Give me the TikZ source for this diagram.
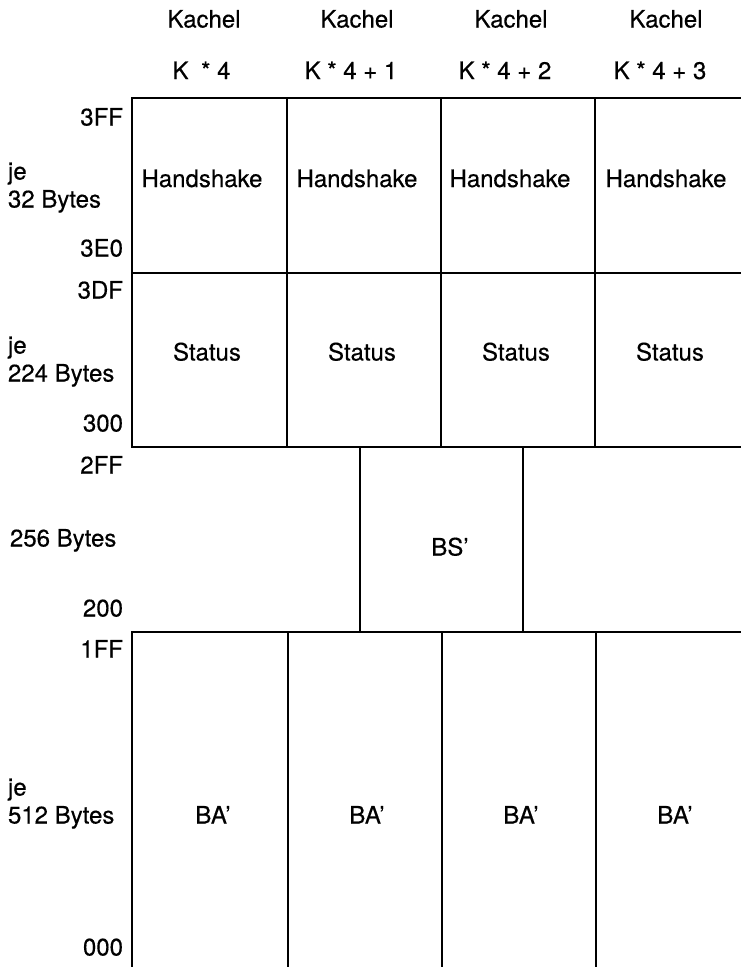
\documentclass[tikz,border=0pt]{standalone}
\usepackage{fontspec}
\setmainfont{TeX Gyre Heros}
\newfontfamily\lblfont{TeX Gyre Heros}[UprightFeatures={FakeBold=0.4}]
\begin{document}
\begin{tikzpicture}[x=1pt,y=-1pt,
  every node/.style={inner sep=0pt,outer sep=0pt,font=\lblfont\fontsize{24}{28}\selectfont},
  rule/.style={line width=1.8pt,line cap=rect},
  hexlbl/.style={anchor=base east},
  sizelbl/.style={anchor=base west},
  cell/.style={anchor=base}]
\useasboundingbox (0,0) rectangle (740,967);
% horizontal rules
\draw[rule] (132,98) -- (740,98);
\draw[rule] (132,273) -- (740,273);
\draw[rule] (132,447) -- (740,447);
\draw[rule] (132,632) -- (740,632);
% vertical rules, top sections
\foreach \xx in {132,287,441,595} \draw[rule] (\xx,98) -- (\xx,447);
% BS' box
\draw[rule] (360,447) -- (360,632);
\draw[rule] (523,447) -- (523,632);
% BA' columns
\foreach \xx in {132,288,442,596} \draw[rule] (\xx,632) -- (\xx,967);
% headers
\node[cell] (k1) at (204,27.5) {Kachel};
\node[cell] (k2) at (357,27.5) {Kachel};
\node[cell] (k3) at (511,27.5) {Kachel};
\node[cell] (k4) at (666,27.5) {Kachel};
\node[cell] (n1) at (201.5,79) {K\hspace{6pt} * 4};
\node[cell] (n2) at (351,79) {K * 4 + 1};
\node[cell] (n3) at (505,79) {K * 4 + 2};
\node[cell] (n4) at (660,79) {K * 4 + 3};
% left labels
\node[hexlbl] (a3ff) at (123,125.5) {3FF};
\node[sizelbl] (je1) at (8,179.5) {je};
\node[sizelbl] (b32) at (8,207.5) {32 Bytes};
\node[hexlbl] (a3e0) at (123,256.5) {3E0};
\node[hexlbl] (a3df) at (123,298.5) {3DF};
\node[sizelbl] (je2) at (8,353.5) {je};
\node[sizelbl] (b224) at (8,381.5) {224 Bytes};
\node[hexlbl] (a300) at (123,431.5) {300};
\node[hexlbl] (a2ff) at (123,473.5) {2FF};
\node[sizelbl] (b256) at (10,546.5) {256 Bytes};
\node[hexlbl] (a200) at (123,616.5) {200};
\node[hexlbl] (a1ff) at (123,657.5) {1FF};
\node[sizelbl] (je3) at (8,795.5) {je};
\node[sizelbl] (b512) at (8,823.5) {512 Bytes};
\node[hexlbl] (a000) at (123,955.5) {000};
% cells
\node[cell] (h1) at (202,187) {Handshake};
\node[cell] (h2) at (357,187) {Handshake};
\node[cell] (h3) at (510,187) {Handshake};
\node[cell] (h4) at (666,187) {Handshake};
\node[cell] (s1) at (207,360.5) {Status};
\node[cell] (s2) at (362,360.5) {Status};
\node[cell] (s3) at (516,360.5) {Status};
\node[cell] (s4) at (670,360.5) {Status};
\node[cell] (bs) at (450,555.5) {BS’};
\node[cell] (ba1) at (213,823.5) {BA’};
\node[cell] (ba2) at (367,823.5) {BA’};
\node[cell] (ba3) at (521,823.5) {BA’};
\node[cell] (ba4) at (675,823.5) {BA’};
\end{tikzpicture}
\end{document}
